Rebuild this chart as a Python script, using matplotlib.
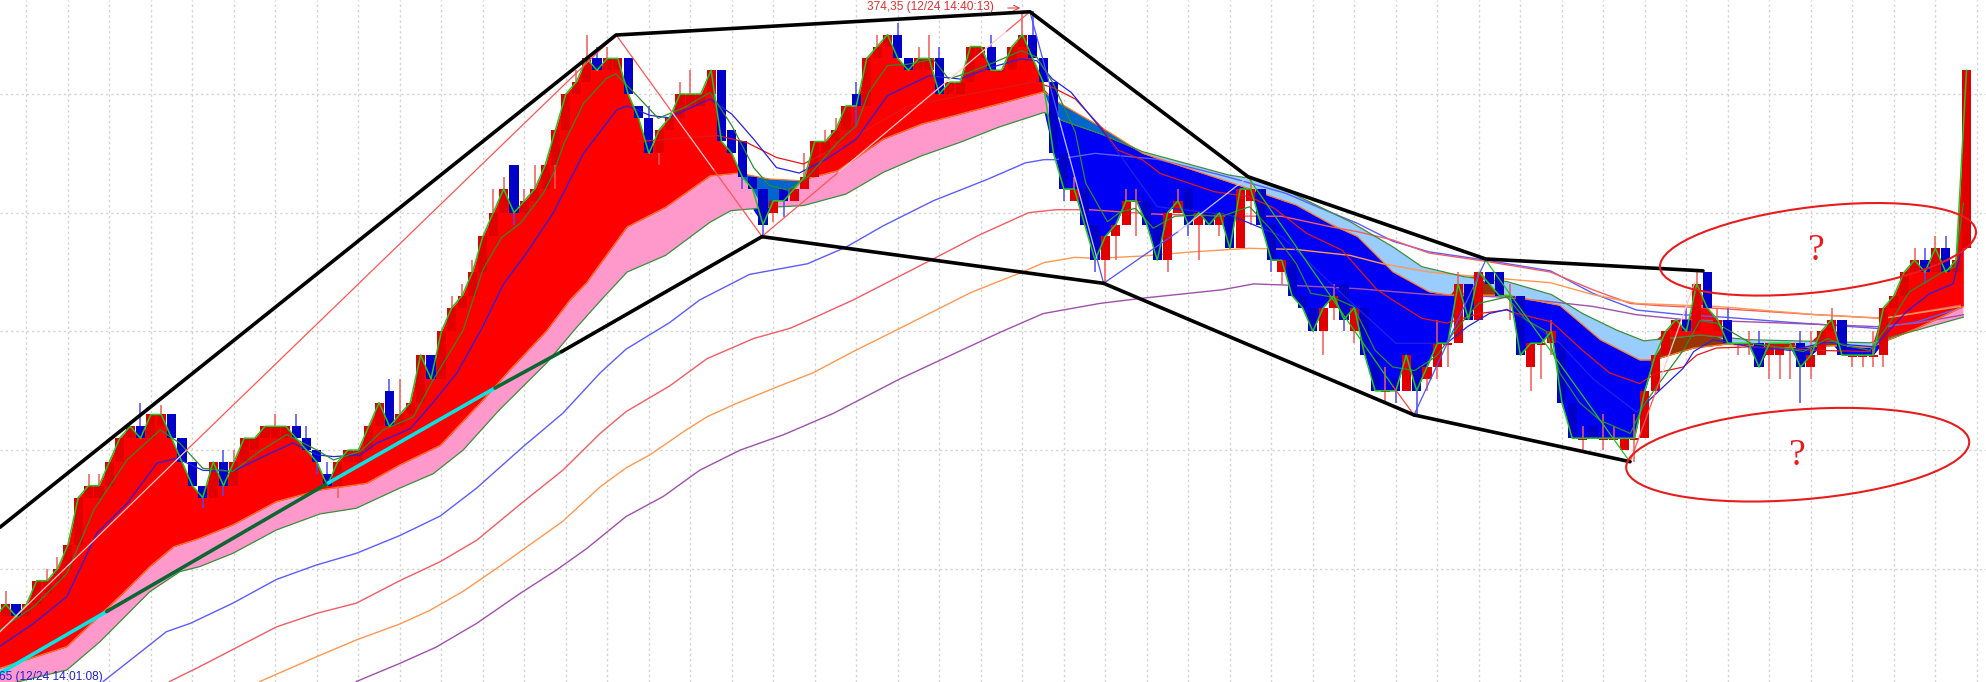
import numpy as np
import matplotlib
matplotlib.use("Agg")
import matplotlib.pyplot as plt
from matplotlib.patches import Ellipse

# levels = price steps below the top grid line, so they grow downwards on the chart
bars = list(range(-2, 189))
opens = [45, 44, 43, 44, 43, 42, 41, 40, 38, 34, 34, 33, 31, 29, 28, 29, 28, 27, 29, 31, 33, 34, 31, 33, 31, 30,
         29, 29, 29, 28, 29, 30, 32, 33, 31, 31, 30, 28, 25, 28, 27, 26, 22, 24, 20, 18, 17, 15, 12, 10, 6, 10,
         9, 8, 6, 3, 0, -1, -3, -2, -2, -3, 1, 2, 5, 3, 2, 1, 1, 0, -2, 3, 4, 7, 8, 10, 8, 9, 8, 7, 5, 4, 3, 0,
         1, -3, -4, -5, -3, -2, -2, -3, 0, 0, -1, -3, -4, -2, -2, -4, -5, -3, -1, 5, 9, 8, 11, 14, 12, 11, 9, 9,
         11, 14, 10, 8, 11, 10, 11, 10, 13, 9, 8, 11, 15, 14, 17, 18, 20, 18, 16, 20, 18, 22, 25, 24, 25, 23, 24,
         23, 21, 21, 16, 19, 15, 15, 17, 17, 23, 21, 21, 21, 26, 29, 28, 29, 29, 30, 29, 29, 25, 22, 20, 19, 20,
         15, 20, 19, 21, 21, 21, 22, 22, 21, 21, 23, 22, 20, 19, 22, 22, 22, 22, 18, 17, 15, 14, 15, 13, 15, 13]
closes = [44, 43, 44, 43, 41, 41, 40, 38, 34, 33, 33, 31, 29, 28, 29, 27, 27, 29, 31, 33, 34, 31, 33, 31, 29, 29,
          28, 28, 28, 29, 30, 31, 33, 31, 30, 30, 28, 26, 28, 27, 26, 22, 24, 20, 18, 17, 15, 12, 10, 8, 10, 9,
          8, 6, 3, 0, -1, -3, -2, -3, -3, 0, 2, 5, 3, 2, 0, 0, 0, -2, 4, 5, 7, 8, 11, 9, 9, 8, 7, 4, 4, 3, 1, 1,
          -3, -4, -5, -3, -2, -3, -3, 0, -1, -1, -4, -4, -2, -2, -4, -5, -3, -1, 5, 8, 8, 11, 14, 12, 11, 9, 9, 11,
          14, 10, 9, 11, 10, 11, 10, 13, 8, 8, 11, 14, 14, 17, 18, 20, 18, 17, 19, 18, 22, 25, 25, 25, 22, 25, 23,
          21, 21, 16, 19, 15, 16, 17, 17, 22, 21, 21, 20, 26, 29, 29, 29, 29, 29, 29, 29, 25, 22, 20, 19, 20, 16,
          18, 19, 21, 21, 21, 23, 21, 21, 21, 23, 22, 20, 19, 22, 22, 22, 22, 18, 17, 15, 14, 15, 13, 15, 14, -2]

high_bars = [-1, 3, 4, 7, 8, 12, 14, 20, 21, 25, 27, 28, 30, 36, 37, 42, 43, 44, 46, 47, 49, 50, 54, 55, 56, 57, 61,
             64, 65, 76, 78, 79, 81, 83, 85, 87, 88, 89, 94, 97, 98, 102, 107, 108, 112, 119, 127, 132, 137, 139,
             144, 148, 151, 153, 154, 155, 156, 161, 162, 164, 165, 167, 168, 172, 173, 175, 179, 182, 183, 184,
             185, 186]
high_levels = [41.9, 40, 39, 32, 32, 26, 26.2, 30, 30, 27, 27, 28, 31, 24, 24, 17, 16, 14, 8, 7, 8, 6, -2, -5, -4, -4,
               1, -1, -2, 5, 3, 2, -1, -5, -6, -4, -5, -4, -5, -7, -7, 7, 8, 8, 8, 7, 16, 23, 19, 15, 16, 19, 28, 27,
               28, 29, 27, 18, 15, 18, 18, 20, 20, 20, 20, 18, 20, 16, 13, 13, 12, 12]
low_bars = [18, 20, 29, 31, 48, 52, 62, 70, 72, 73, 74, 81, 101, 102, 104, 105, 106, 108, 111, 113, 114, 116, 119,
            121, 122, 123, 126, 127, 128, 129, 132, 133, 135, 136, 137, 138, 144, 146, 147, 148, 151, 153, 155, 156,
            166, 167, 169, 170, 171, 172, 173, 177, 178, 179, 180, 184]
low_levels = [34.9, 33.9, 32, 34, 11, 8, 6, 8, 12, 10.8, 10.4, 2.8, 9, 9, 15, 16, 14, 12, 15, 12, 14, 12, 11, 15, 16,
              17, 22, 19, 20, 21, 26, 26, 27, 25, 24, 23, 19, 25, 24, 22, 30, 30, 30, 31, 22, 22, 24, 24, 24, 26, 24,
              23, 23, 23, 23, 16]

# ribbon edges
upper_bars = [-1.6, 4.9, 10.3, 12.9, 15.2, 17.7, 20.9, 25.1, 29.3, 33.8, 37, 40.9, 45, 47.6, 51.1, 53.4, 55, 58.9,
              62.6, 66.9, 69.6, 72.6, 75.5, 79.2, 83.6, 87.3, 91, 94.7, 99.1, 100.2, 104.6, 108.6, 116.9, 123.4,
              126.9, 129.3, 132.7, 136.2, 138.2, 143.7, 148.8, 152.7, 156.5, 157.9, 161.7, 164.9, 170.4, 175.2,
              178.7, 183.2, 187.7]
upper_levels = [48.4, 46.56, 42.07, 39.82, 38.14, 37.43, 36.3, 34.34, 33.36, 32.8, 31.25, 29.6, 25.8, 23.25, 20,
                17.35, 15.9, 11.2, 9.55, 6.9, 6.66, 7.16, 7.3, 6.46, 3.8, 2.53, 1.69, 0.84, -0.2, 0.56, 2.8, 5, 7.4,
                9.35, 11.04, 12, 14.97, 16.66, 16.94, 16.94, 17.8, 20.7, 22.4, 22.4, 21.4, 21.07, 21.4, 21.2, 21.35,
                19.75, 17.9]
lower_bars = [-1.6, 4.9, 8.1, 12.9, 15.8, 17.7, 20.9, 25.1, 29.3, 32.8, 37, 40.2, 43.1, 46.6, 51.1, 54, 56.4, 58.9,
              62.6, 66.9, 68.9, 72.6, 75.9, 80, 83.6, 87.3, 91, 94.7, 99.1, 100.9, 104.6, 108.6, 116.9, 118.9, 123,
              128.6, 132.7, 135.5, 139.6, 143.7, 148, 151, 154.3, 156.9, 162.3, 167, 178.7, 183.2, 187.7]
lower_levels = [49.9, 48.53, 46.14, 41.93, 40.24, 39.82, 38.7, 36.73, 35.38, 34.9, 33.2, 32, 30, 26.6, 22.7, 19.7,
                17.35, 15, 13.6, 10.8, 9.83, 9.55, 9.4, 8.43, 6.6, 5.2, 4.07, 2.8, 1.55, 2.25, 3.37, 4.86, 6.83, 7.1,
                8.37, 10.76, 12.87, 14.55, 15.4, 15.8, 16.9, 18.5, 19.9, 20.8, 20.3, 20.7, 20.96, 19.9, 18.8]

# moving averages
fast_bars = [-1.6, 0, 1.7, 4.9, 7.5, 10.7, 13.9, 15.8, 18, 20.9, 23.5, 26.1, 29, 30.6, 33.2, 35.4, 38.3, 40.2, 43.1,
             45, 46.8, 48.6, 50.8, 51.8, 52.8, 54.7, 56.9, 57.8, 59.7, 61.9, 64.5, 66.9, 69, 71.1, 72.6, 74.4, 76.3,
             79.2, 81, 82.2, 84, 85.9, 88.4, 89.9, 91.8, 94.3, 96.9, 98.4, 99.9, 102.1, 103.1, 105.2, 106.5, 107.9,
             109.6, 111.7, 113.8, 116.2, 118.9, 121, 123.4, 124.8, 126.8, 128.9, 131, 132.7, 134.8, 136.9, 139, 141,
             143.7, 145.5, 147.5, 148.8, 150.7, 152.7, 155.6, 156.8, 158.1, 160.7, 162.3, 163.9, 167.2, 170.4,
             172.3, 174.6, 176.1, 178.7, 180.6, 182.5, 185.7, 186.9, 187.7]
fast_levels = [45.16, 44.2, 43.2, 40.4, 35.05, 30.83, 28.3, 29.43, 31.53, 31.8, 30.1, 28.7, 30, 30.83, 30.1, 28.3,
               27.2, 24.1, 19.9, 14.8, 12.1, 10.9, 8.4, 6.7, 4.2, 0.8, -1.3, -1.7, 0, 2.05, 1.1, -0.14, 2.67, 6.2,
               7.7, 8.1, 7, 4.07, 2.67, -0.14, -2.4, -2.5, -2.95, -1.26, -1.8, -2.67, -3.65, -3.1, -1, 3.2, 7.5,
               10.76, 9.9, 9.64, 11.3, 10.3, 10.2, 10.3, 9.5, 11.46, 14.3, 16.8, 17.1, 17.9, 21.6, 23, 23.3, 22.1,
               19.6, 17.64, 17.1, 19, 20, 23.5, 26, 27.5, 28.6, 26.35, 24.7, 21.6, 19.1, 19.3, 21, 21.4, 21.7, 20.6,
               21.15, 21.6, 19.3, 16.66, 15, 14.55, 9.2]
mid_bars = [-1.6, 1.7, 4.9, 7.8, 10.7, 13.6, 15.5, 18, 20.9, 24.2, 26.7, 29, 30.6, 33.2, 34.8, 38, 40.2, 42.5, 44.9,
            47, 49.2, 51.8, 54.7, 57.9, 58.9, 61.1, 62.9, 65.2, 66.9, 69, 71.1, 73.3, 75.5, 78.1, 81, 84, 88, 91, 94,
            96.9, 98.4, 99.9, 101.7, 104.6, 110, 117, 122, 128, 133, 137.9, 139.9, 142, 143.7, 145.5, 148.8, 152,
            156.2, 158.5, 160.7, 161.7, 163.6, 167.2, 171, 174.6, 176.9, 179.1, 182.2, 184.5, 186.7, 187.5]
mid_levels = [46.56, 44.6, 42.35, 37, 34.5, 31.1, 30.7, 31.7, 31.8, 30.4, 29.4, 30.4, 30.55, 30.4, 29.4, 28.2, 26,
              23.5, 19.75, 16, 13.4, 10, 5, 1.35, 1, 1.8, 2, 1.1, 0.42, 1.7, 3.8, 6.2, 6.66, 5.5, 3.8, 0.14, -1.54,
              -1.26, -2.25, -2.95, -2.8, -1.26, -0.14, 2.95, 9.5, 10.2, 12, 17, 21, 21, 19.6, 18.5, 18.15, 19, 21,
              24, 26.8, 24.9, 23.1, 21.7, 20.7, 21.3, 21.6, 20.9, 21.15, 21.3, 18.35, 16.8, 16, 13.15]
slow_bars = [60, 67.6, 70.4, 73.3, 75.9, 80, 86, 92, 98, 99.9, 102.1, 104.6, 106.2, 108.6, 110.3, 115.5, 118.9, 121.3,
             124.4, 127.8, 131.2, 132.7, 135.5, 137.9, 141, 143.7, 144.7, 148, 151, 153.6, 156.5, 158.1, 160.7, 162,
             163.9, 167.2, 173.6, 178.7]
slow_levels = [4, 3.5, 4.07, 5.35, 5.9, 4, 1, 0, -1, -0.56, 0.42, 2.8, 4.72, 5.56, 6.7, 8.23, 8.65, 9.64, 11.74, 13.15,
               16.5, 17.36, 18.9, 19.3, 18.5, 18.2, 18.5, 19.2, 21.6, 23.5, 24.4, 23.5, 23, 22, 21.4, 21.3, 21.6, 21.7]

long_blue_bars = [8.4, 14.5, 16.8, 20.9, 25.1, 28.9, 32.8, 37, 40.9, 44.4, 48.9, 52.7, 56.3, 58.8, 63, 65.9, 70.7, 76.3,
                  80, 83.6, 88.4, 93.6, 97.3, 99.1, 100.2, 104, 110, 116, 118.9, 122.4, 125.8, 129.3, 132.7, 136.2,
                  141.7, 147.9, 152, 156.2, 160.7, 164.6, 170.4, 179.4, 183.2, 187.5]
long_blue_levels = [49.5, 45.3, 44.6, 42.9, 40.9, 39.7, 38.7, 37.2, 35.55, 33.2, 29.7, 26.9, 23.5, 21.5, 19.26, 17.35,
                    15.2, 14.3, 12.9, 11.1, 9, 7.2, 5.8, 5.53, 5.53, 5, 5.5, 6.8, 7.5, 8.37, 9.64, 10.9, 12.4, 13.3,
                    14, 14.9, 16.8, 18.2, 18.6, 18.8, 19.2, 19.75, 19.2, 18]
long_red_bars = [14.8, 17.7, 20.9, 25.1, 29, 32.8, 37, 40.9, 44.4, 48.9, 52.7, 56.3, 58.8, 63, 66.6, 71.1, 74.6, 76.8,
                 80.7, 88.4, 92.8, 97.6, 100.2, 103.5, 109.3, 116.2, 122, 126.8, 129.3, 132.7, 136.2, 141.7, 147.9, 152,
                 155.6, 158.5, 164, 173.6, 180, 187.4]
long_red_levels = [49.5, 48.25, 46.8, 44.9, 43.75, 42.9, 41, 39.4, 37.6, 34.35, 31.7, 28.6, 26.76, 24.6, 22.3, 20.6,
                   19.74, 18.9, 17.35, 13.9, 11.9, 10, 9.75, 9.75, 10.1, 10.28, 10.3, 11.2, 11.6, 12.3, 13.4, 14.1, 15,
                   16.5, 17.65, 17.84, 18.06, 18.6, 18.9, 17.8]
long_orange_bars = [23.5, 29, 32.8, 37, 39.9, 43.1, 46.6, 52.7, 56.3, 58.8, 61.1, 64.6, 66.6, 69.1, 73.3, 76.8, 80.7,
                    85.2, 92.1, 97, 99.1, 102.1, 104.1, 108.6, 113.4, 118.9, 123.4, 128.6, 131.7, 136.2, 141, 147.9,
                    152, 156.2, 164, 173.6, 180, 187.4]
long_orange_levels = [49.5, 47.4, 46, 44.65, 43.5, 41.9, 39.8, 36, 33.1, 31.5, 30.4, 28.3, 27.2, 26.2, 24.7, 23.5, 21.7,
                      19.74, 16.7, 15, 14.2, 13.76, 13.85, 13.65, 13.3, 13, 13.1, 13.6, 14.3, 15, 15.4, 15.9, 16.9,
                      17.65, 17.9, 18.6, 18.9, 17.9]
long_purple_bars = [32.8, 37, 40.5, 44.4, 48.6, 52.1, 55, 58.8, 62.4, 65.9, 69.8, 74, 78.8, 85.2, 94.8, 99, 104.5, 108.6,
                    116.2, 119.3, 122.4, 129.3, 136.2, 143, 147.9, 152, 156.2, 160.7, 170.4, 179.4, 183.2, 187.7]
long_purple_levels = [49.5, 47.97, 46.6, 44.6, 42.07, 40.1, 38.3, 35.6, 33.9, 31.7, 30, 28.7, 26.9, 24, 20.1, 18.5,
                      17.64, 17.2, 16.5, 16, 16.1, 16.4, 16.9, 17.1, 17.5, 17.9, 18.6, 19, 19.3, 19.6, 19.3, 18.6]

# hand drawn trend lines
top_trend_bars = [-1.54, 57.83, 97.73, 118.75, 141.66, 162.6]
top_trend_levels = [36.5, -4.97, -6.93, 6.97, 13.9, 14.9]
low_trend_bars = [-1.54, 8.74, 30.1, 46.17, 52.6, 71.9, 104.83, 134.75, 155.57]
low_trend_levels = [48.8, 43.6, 32.77, 24.77, 21.7, 12.02, 15.95, 27.04, 30.98]
low_trend_colors = ["#00e6e6", "#0b6632", "#00e6e6", "#0b6632", "black", "black", "black", "black"]

# zigzag swings, pale where the line runs across a filled area
zig_bars = [-1.54, 16.45, 57.83, 63.25, 67.3, 71.9, 79.3, 95.5, 97.73, 100.5, 104.2, 104.83, 112, 118.75, 132.7,
            134.75, 141.66, 155.57, 158.5, 161.8]
zig_levels = [45.3, 30, -5, 1.55, 6.44, 12, 6.57, -5.3, -6.93, 2, 13.9, 15.95, 11.6, 7, 24.6, 27.04, 14, 31, 24, 15.9]
zig_colors = ["#ffc8c8", "#ff5555", "#ff5555", "#ffc8c8", "#ff5555", "#ff5555", "#ffc8c8", "#ff5555", "#5050ff",
              "#c4c4ff", "#5050ff", "#5050ff", "#c4c4ff", "#1fc01f", "#ff4040", "#5050ff", "#22c422", "#ff5555",
              "#ffc8c8"]

grid_levels = [0, 10, 20, 30, 40]
grid_bars = list(range(1, 190, 4))

ellipse_centers = [(1818, 249.3), (1797.7, 454.7)]
ellipse_widths = [318, 344]
ellipse_heights = [85.4, 90]
ellipse_angles = [-6.7, -4.5]
mark_points = [(1816.7, 251), (1797, 456)]

bar_x = np.array(bars, dtype=float)
open_arr = np.array(opens, dtype=float)
close_arr = np.array(closes, dtype=float)
is_up = close_arr <= open_arr

fig = plt.figure(figsize=(19.86, 6.82), dpi=100, facecolor="white")
ax = fig.add_axes([0, 0, 1, 1])
ax.set_xlim(-1.542, 189.88)
ax.set_ylim(49.54, -7.92)
for spine in ax.spines.values():
    spine.set_visible(False)
ax.set_xticks(grid_bars)
ax.set_yticks(grid_levels)
ax.tick_params(length=0, labelbottom=False, labelleft=False)
ax.grid(True, color="#d2d2d2", linewidth=1.0, linestyle=(0, (1.6, 2.2)), zorder=0)
ax.set_axisbelow(True)

# common x grid so the close line and the ribbon edges share one fill polygon
fill_x = np.union1d(np.union1d(bar_x, upper_bars), lower_bars)
fill_x = fill_x[fill_x <= 187.7]
c = np.interp(fill_x, bar_x, close_arr)
a = np.interp(fill_x, upper_bars, upper_levels)
b = np.interp(fill_x, lower_bars, lower_levels)
high_edge = np.minimum(a, b)
low_edge = np.maximum(a, b)

ax.fill_between(fill_x, a, b, where=a <= b, color="#ff99cc", lw=0, interpolate=True, zorder=1)
ax.fill_between(fill_x, a, b, where=a > b, color="#99ccff", lw=0, interpolate=True, zorder=1)
ax.fill_between(fill_x, high_edge, np.minimum(c, high_edge), color="#ff0000", lw=0, zorder=2)
ax.fill_between(fill_x, low_edge, np.maximum(c, low_edge), color="#0000f5", lw=0, zorder=2)
ax.fill_between(fill_x, a, np.clip(c, a, np.maximum(a, b)), where=a <= b, color="#0066cc", lw=0, interpolate=True,
                zorder=2)
ax.fill_between(fill_x, a, np.clip(c, np.minimum(a, b), a), where=a > b, color="#993300", lw=0, interpolate=True,
                zorder=2)

ax.plot(long_blue_bars, long_blue_levels, color="#5c5cff", lw=1.0, zorder=3)
ax.plot(long_red_bars, long_red_levels, color="#f25c64", lw=1.0, zorder=3)
ax.plot(long_orange_bars, long_orange_levels, color="#ff9850", lw=1.0, zorder=3)
ax.plot(long_purple_bars, long_purple_levels, color="#a050ac", lw=1.0, zorder=3)
ax.plot(upper_bars, upper_levels, color="#ff7a20", lw=0.9, zorder=3)
ax.plot(lower_bars, lower_levels, color="#3c8c3c", lw=0.9, zorder=3)

# candles, doji get a thin body so they stay visible
body_colors = ["#e00000" if up else "#0000c8" for up in is_up]
wick_colors = {True: "#f25a5a", False: "#4c4cf0"}
index = {bar: n for n, bar in enumerate(bars)}
for bar, level in zip(high_bars, high_levels):
    n = index[bar]
    ax.vlines(bar, level, min(open_arr[n], close_arr[n]), color=wick_colors[bool(is_up[n])], lw=1.1, zorder=4)
for bar, level in zip(low_bars, low_levels):
    n = index[bar]
    ax.vlines(bar, max(open_arr[n], close_arr[n]), level, color=wick_colors[bool(is_up[n])], lw=1.1, zorder=4)
ax.bar(bar_x, np.maximum(np.abs(close_arr - open_arr), 0.12), bottom=np.minimum(open_arr, close_arr), width=0.88,
       color=body_colors, linewidth=0, zorder=5)

ax.plot(slow_bars, slow_levels, color="#e01818", lw=0.9, zorder=6)
ax.plot(mid_bars, mid_levels, color="#2222e6", lw=0.9, zorder=6)
ax.plot(fast_bars, fast_levels, color="#2f8a2f", lw=0.9, zorder=6)
ax.plot(bar_x, close_arr, color="#22c822", lw=1.1, zorder=7)

for n, color in enumerate(zig_colors):
    ax.plot(zig_bars[n:n + 2], zig_levels[n:n + 2], color=color, lw=0.9, zorder=8)

ax.plot(top_trend_bars, top_trend_levels, color="black", lw=2.6, solid_capstyle="round", zorder=9)
for n, color in enumerate(low_trend_colors):
    ax.plot(low_trend_bars[n:n + 2], low_trend_levels[n:n + 2], color=color, lw=2.6, solid_capstyle="round", zorder=9)

# annotations were placed on the screenshot, so they live on a pixel overlay
ann = fig.add_axes([0, 0, 1, 1], facecolor="none")
ann.set_xlim(0, 1986)
ann.set_ylim(682, 0)
ann.axis("off")
for center, w, h, angle in zip(ellipse_centers, ellipse_widths, ellipse_heights, ellipse_angles):
    ann.add_patch(Ellipse(center, w, h, angle=angle, fill=False, edgecolor="#e81c1c", lw=1.5))
for x, y in mark_points:
    ann.text(x, y, "?", color="#e81c1c", fontsize=27, family="Liberation Serif", ha="center", va="center")

ann.text(994, 7, "374,35 (12/24 14:40:13)", color="#e03030", fontsize=8.6, family="Liberation Sans", ha="right",
         va="center")
ann.annotate("", xy=(1023, 8), xytext=(1005, 8), arrowprops=dict(arrowstyle="->", color="#e03030", lw=0.7))
ann.text(103, 677, "65 (12/24 14:01:08)", color="#2020d0", fontsize=8.6, family="Liberation Sans", ha="right",
         va="center")

plt.savefig("out.png", dpi=100)
plt.close()
